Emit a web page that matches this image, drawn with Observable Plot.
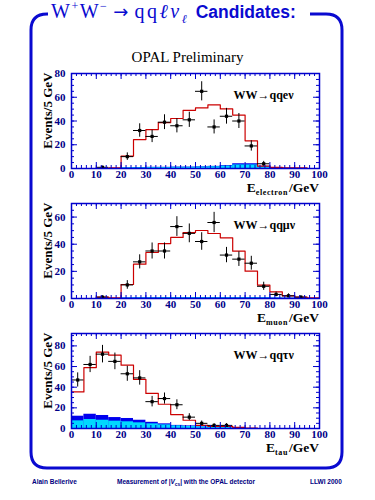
<!DOCTYPE html>
<html><head><meta charset="utf-8">
<script src="https://cdn.jsdelivr.net/npm/d3@7"></script>
<script src="https://cdn.jsdelivr.net/npm/@observablehq/plot@0.6"></script>
<style>
body{margin:0;background:#fff;}
#page{position:relative;width:375px;height:500px;overflow:hidden;background:#fff;}
.abs{position:absolute;}
#title{left:51px;top:1px;font-size:20px;line-height:20px;color:#0a0ad0;white-space:nowrap;font-family:"Liberation Serif",serif;}
#title .cand{font-family:"Liberation Sans",sans-serif;font-weight:bold;font-size:17.5px;margin-left:9px;}
#title .ol{text-decoration:overline;text-decoration-thickness:1px;}
#title .ls{letter-spacing:2.5px;}
#title .w{letter-spacing:1.5px;}
#title sup,#title sub{font-size:0.6em;line-height:0;}
#title .arr{font-family:"DejaVu Sans",sans-serif;font-size:18px;margin:0 6px 0 5px;}
#opal{left:0;width:375px;top:49px;text-align:center;font-family:"Liberation Serif",serif;font-size:15px;}
.foot{top:478px;font-family:"Liberation Sans",sans-serif;font-weight:bold;font-size:6.5px;color:#000080;white-space:nowrap;}
.foot sub{font-size:0.75em;}
</style></head>
<body><div id="page">
<svg class="abs" id="deco" width="375" height="500" style="left:0;top:0;"></svg>
<div class="abs" id="title"><span class="w">W<sup>+</sup>W<sup>−</sup></span><span class="arr">→</span><span class="ls">q<span class="ol">q</span><i>ℓ</i><span class="ol"><i>ν</i></span></span><sub><i>ℓ</i></sub><span class="cand">Candidates:</span></div>
<div class="abs" id="opal">OPAL Preliminary</div>
<div class="abs foot" style="left:32px;">Alain Bellerive</div>
<div class="abs foot" style="left:117px;">Measurement of |<i>V</i><sub>cs</sub>| with the OPAL detector</div>
<div class="abs foot" style="left:310px;">LLWI 2000</div>
</div>
<script>
// ---- data (5 GeV bins, lower edges) ----
const binLo = [0,5,10,15,20,25,30,35,40,45,50,55,60,65,70,75,80,85,90,95];
const xMajor = [0,10,20,30,40,50,60,70,80,90,100];

// qq e nu
const eData  = [0,0,1,0,10,32,27,39,36,41,65,35,44,40,19,4,0,0,0,0];
const eMC    = [0,0,0,0.5,10.4,24.4,32.8,38.7,42.1,49,51,53.5,50.2,45,23.3,2,1,0.5,0.5,0];
const eCyan  = [0,0,0,0,0.5,0.6,0.8,0.8,1,1,1.2,1.5,2,3,3,1.5,0.3,0,0,0];
const eTotal = [0,0,0,0,0.6,0.8,1,1,1.2,1.2,1.4,1.8,2.4,4,4,1.8,0.4,0.2,0,0];

// qq mu nu
const mData  = [0,0,1,0,10,27,35,35,53,48,42,56,32,29,26,9,3,2,1,0];
const mMC    = [0,0,1,0.5,10.3,25.3,33.9,40.5,45,48.6,50.1,47.9,44.7,34.9,20.1,9.8,4.9,2,1,0.5];
const mCyan  = [0,0,0,0,0.3,0.4,0.4,0.5,0.5,0.5,0.5,0.5,0.5,0.5,0.5,0.4,0.3,0.2,0,0];
const mTotal = [0,0,0,0,0.5,0.6,0.6,0.7,0.7,0.7,0.7,0.7,0.7,0.7,0.7,0.6,0.4,0.3,0,0];

// qq tau nu
const tData  = [47,62,72,65,53,49,26,29,23,11,5,3,3,0,0,0,0,0,0,0];
const tMC    = [35.4,59,74,71,61.3,47.5,34,23.5,13.5,8,3,2,2,1,0.5,0,0,0,0,0];
const tCyan  = [7.4,8.7,8,7.1,6.5,5.5,4.5,3.5,2.6,2,1.5,1,1,0.5,0,0,0,0,0,0];
const tTotal = [11.9,13.8,12.6,10.6,9.7,8,6,4.5,3,2.5,1.5,1,1,0.5,0,0,0,0,0,0];

const panels = [
  {data:eData, mc:eMC, cyan:eCyan, total:eTotal, ymax:80, yMajor:[0,20,40,60,80], label:"WW→qqeν", sub:"electron", top:60},
  {data:mData, mc:mMC, cyan:mCyan, total:mTotal, ymax:70, yMajor:[0,20,40,60], label:"WW→qqμν", sub:"muon", top:190},
  {data:tData, mc:tMC, cyan:tCyan, total:tTotal, ymax:92, yMajor:[0,20,40,60,80], label:"WW→qqτν", sub:"tau", top:320}
];

const AXIS = "#0000cc", NAVY = "#000088", RED = "#cc0000", DARK = "#0000ee", CYAN = "#00d8ff";
const W = 375, H = 130, mt = 13, mb = 22, ml = 71, mr = 56, fh = H - mt - mb;
const page = document.getElementById("page");

panels.forEach(p => {
  const bins = binLo.map((lo, i) => ({x1: lo, x2: lo + 5, cyan: p.cyan[i], total: p.total[i]}));
  const steps = binLo.map((lo, i) => ({x: lo, y: p.mc[i]}));
  steps.push({x: 100, y: p.mc[p.mc.length - 1]});
  const pts = binLo.map((lo, i) => ({x: lo + 2.5, lo, hi: lo + 5, y: p.data[i], e: Math.sqrt(p.data[i])})).filter(d => d.y > 0);
  const xMinor = d3.range(0, 101, 2);
  const yMinor = d3.range(0, p.ymax + 0.01, 5);
  const svg = Plot.plot({
    width: W, height: H, marginTop: mt, marginBottom: mb, marginLeft: ml, marginRight: mr,
    style: {background: "transparent", fontFamily: "Liberation Serif", fontWeight: "bold", fontSize: "11px", overflow: "visible"},
    x: {domain: [0, 100]},
    y: {domain: [0, p.ymax]},
    marks: [
      Plot.rectY(bins, {x1: "x1", x2: "x2", y: "total", fill: DARK}),
      Plot.rectY(bins, {x1: "x1", x2: "x2", y: "cyan", fill: CYAN}),
      Plot.line(steps, {x: "x", y: "y", curve: "step-after", stroke: RED, strokeWidth: 1.2}),
      Plot.ruleY(pts, {x1: "lo", x2: "hi", y: "y", stroke: "black", strokeWidth: 1}),
      Plot.ruleX(pts, {x: "x", y1: d => d.y - d.e, y2: d => d.y + d.e, stroke: "black", strokeWidth: 1}),
      Plot.dot(pts, {x: "x", y: "y", symbol: "square", r: 1.8, fill: "black"}),
      // inward ticks
      Plot.tickX(xMinor, {x: d => d, insetTop: fh - 3, stroke: AXIS}),
      Plot.tickX(xMinor, {x: d => d, insetBottom: fh - 3, stroke: AXIS}),
      Plot.tickX(xMajor, {x: d => d, insetTop: fh - 6, stroke: AXIS}),
      Plot.tickX(xMajor, {x: d => d, insetBottom: fh - 6, stroke: AXIS}),
      Plot.tickY(yMinor, {y: d => d, insetRight: (W - ml - mr) - 3, stroke: AXIS}),
      Plot.tickY(yMinor, {y: d => d, insetLeft: (W - ml - mr) - 3, stroke: AXIS}),
      Plot.tickY(p.yMajor, {y: d => d, insetRight: (W - ml - mr) - 6, stroke: AXIS}),
      Plot.tickY(p.yMajor, {y: d => d, insetLeft: (W - ml - mr) - 6, stroke: AXIS}),
      Plot.frame({stroke: AXIS, strokeWidth: 1.5}),
      Plot.axisX({ticks: xMajor, tickSize: 0, tickPadding: 2, color: NAVY, label: null}),
      Plot.axisY({ticks: p.yMajor, tickSize: 0, tickPadding: 6, color: NAVY, label: null}),
      Plot.text(["Events/5 GeV"], {text: d => d, frameAnchor: "top-left", rotate: -90, textAnchor: "end", dx: -29, dy: -1, fontSize: 13, fontWeight: "bold", fill: "black"}),
      Plot.text([p.label], {text: d => d, frameAnchor: "top-left", textAnchor: "start", dx: 162, dy: 17, fontSize: 12, fontWeight: "bold", fill: "black"})
    ]
  });
  svg.style.position = "absolute";
  svg.style.left = "0px";
  svg.style.top = p.top + "px";
  page.appendChild(svg);
});

// decoration: rounded slide frame and x-axis titles
const deco = d3.select("#deco");
const L = 31, R = 342, T = 14, B = 468, r = 16;
deco.append("path")
  .attr("d", `M48,${T} L${L + r},${T} Q${L},${T} ${L},${T + r} L${L},${B - r} Q${L},${B} ${L + r},${B} L${R - r},${B} Q${R},${B} ${R},${B - r} L${R},${T + r} Q${R},${T} ${R - r},${T} L310,${T}`)
  .attr("fill", "none").attr("stroke", "#0a0ad0").attr("stroke-width", 3);
panels.forEach(p => {
  const base = p.top + mt + fh + 24;
  const t = deco.append("text").attr("x", 319).attr("y", base).attr("text-anchor", "end")
    .attr("font-family", "Liberation Serif").attr("font-weight", "bold").attr("font-size", 13.5);
  t.append("tspan").text("E");
  t.append("tspan").attr("font-size", 8).attr("letter-spacing", 0.6).attr("dy", 3).text(p.sub);
  t.append("tspan").attr("dy", -3).attr("dx", 1).text("/GeV");
});
</script>
</body></html>
